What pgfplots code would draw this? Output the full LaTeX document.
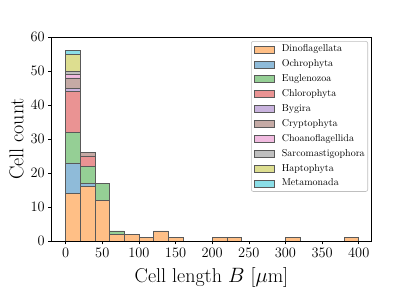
\documentclass[border=0pt]{standalone}
\usepackage{pgfplots}
\pgfplotsset{compat=1.18}
\usepackage{pgfplotstable}
\definecolor{cDino}{HTML}{FFBF86}
\definecolor{cOchro}{HTML}{8FBBD9}
\definecolor{cEugl}{HTML}{95CF95}
\definecolor{cChloro}{HTML}{EA9393}
\definecolor{cBygira}{HTML}{C9B3DE}
\definecolor{cCrypto}{HTML}{C5AAA5}
\definecolor{cChoano}{HTML}{F1BBE0}
\definecolor{cSarco}{HTML}{BFBFBF}
\definecolor{cHapto}{HTML}{DDDE90}
\definecolor{cMeta}{HTML}{8BDEE7}
\pgfplotstableread{
x   dino ochro eugl chloro bygira crypto choano sarco hapto meta
10  14   9     9    12     1      3      1      1     5     1
30  16   1     5    3      0      1      0      0     0     0
50  12   0     5    0      0      0      0      0     0     0
70  2    0     1    0      0      0      0      0     0     0
90  2    0     0    0      0      0      0      0     0     0
110 1    0     0    0      0      0      0      0     0     0
130 3    0     0    0      0      0      0      0     0     0
150 1    0     0    0      0      0      0      0     0     0
210 1    0     0    0      0      0      0      0     0     0
230 1    0     0    0      0      0      0      0     0     0
310 1    0     0    0      0      0      0      0     0     0
390 1    0     0    0      0      0      0      0     0     0
}\datatable
\begin{document}
\begin{tikzpicture}
\useasboundingbox (0,0) rectangle (415pt,297pt);
\begin{axis}[
  at={(51.7pt,56pt)}, anchor=south west,
  scale only axis, width=319.5pt, height=204pt,
  xmin=-19, xmax=417, ymin=0, ymax=60,
  ybar stacked, bar width=20,
  xtick={0,50,...,400}, ytick={0,10,...,60},
  tick align=outside, major tick length=3.5pt, tick pos=left,
  tick style={black, line width=0.6pt},
  axis line style={line width=0.7pt},
  ticklabel style={font=\fontsize{15.5}{16}\selectfont},
  xlabel={Cell length $B$ [$\mu$m]}, ylabel={Cell count},
  label style={font=\fontsize{20}{22}\selectfont},
  xlabel style={yshift=-3pt},
  every axis plot post/.append style={draw=black!65, line width=0.5pt,
    legend image code/.code={\draw[##1,sharp corners] (0pt,-3.5pt) rectangle (20pt,3.5pt);}},
  legend cell align=left,
  legend style={at={(axis description cs:0.99,0.98)}, anchor=north east,
    font=\fontsize{10}{12}\selectfont, draw=black!25, line width=0.6pt, fill=white,
    rounded corners=2pt, inner sep=2.5pt, row sep=3.9pt,
    nodes={inner sep=0.5pt, text height=7.5pt, text depth=2.5pt},
    /tikz/every odd column/.append style={column sep=7pt}},
]
\addplot[fill=cDino] table[x=x, y=dino] {\datatable};
\addplot[fill=cOchro] table[x=x, y=ochro] {\datatable};
\addplot[fill=cEugl] table[x=x, y=eugl] {\datatable};
\addplot[fill=cChloro] table[x=x, y=chloro] {\datatable};
\addplot[fill=cBygira] table[x=x, y=bygira] {\datatable};
\addplot[fill=cCrypto] table[x=x, y=crypto] {\datatable};
\addplot[fill=cChoano] table[x=x, y=choano] {\datatable};
\addplot[fill=cSarco] table[x=x, y=sarco] {\datatable};
\addplot[fill=cHapto] table[x=x, y=hapto] {\datatable};
\addplot[fill=cMeta] table[x=x, y=meta] {\datatable};
\legend{Dinoflagellata,Ochrophyta,Euglenozoa,Chlorophyta,Bygira,Cryptophyta,Choanoflagellida,Sarcomastigophora,Haptophyta,Metamonada}
\draw[line width=0.7pt] (rel axis cs:0,0) rectangle (rel axis cs:1,1);
\end{axis}
\end{tikzpicture}
\end{document}
